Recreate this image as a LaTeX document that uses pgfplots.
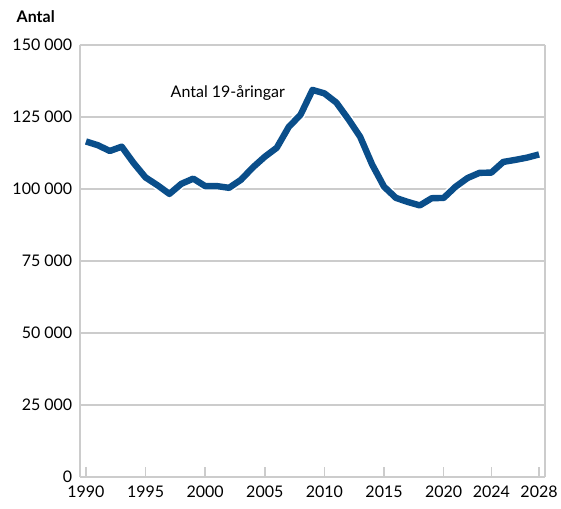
\documentclass[border=0pt]{standalone}
\usepackage{pgfplots}
\pgfplotsset{compat=1.18}
\usepackage{fontspec}
\setmainfont{Lato}
\definecolor{lineblue}{RGB}{10,78,138}
\definecolor{gridgray}{RGB}{204,204,204}
\begin{document}
\fontsize{8}{9.6}\selectfont
\begin{tikzpicture}
\path[use as bounding box] (-40pt,-15.5pt) rectangle (240.5pt,238.5pt);
\begin{axis}[
  at={(0,0)}, anchor=south west,
  width=232.5pt, height=216pt, scale only axis,
  xmin=1989.5, xmax=2028.5,
  ymin=0, ymax=150000,
  scaled y ticks=false,
  axis line style={gridgray, line width=0.8pt},
  axis x line*=bottom,
  axis y line*=left,
  xtick={1990,1995,2000,2005,2010,2015,2020,2024,2028},
  xticklabels={1990,1995,2000,2005,2010,2015,2020,2024,2028},
  ytick={0,25000,50000,75000,100000,125000,150000},
  yticklabels={0,25 000,50 000,75 000,100 000,125 000,150 000},
  ymajorgrids, grid style={gridgray, line width=0.8pt},
  major x tick style={gridgray, line width=0.8pt},
  major y tick style={draw=none},
  tick align=inside,
  major tick length=5pt,
  xtick pos=bottom,
  tick label style={font=\fontsize{8}{9.6}\selectfont, text=black},
  xticklabel style={yshift=-1.5pt},
  yticklabel style={xshift=-1pt},
  clip=false,
]
\draw[gridgray, line width=0.8pt] (rel axis cs:1,0) -- (rel axis cs:1,1);
\pgfplotstableread{
year val
1990 116500
1991 115200
1992 113200
1993 114700
1994 109000
1995 104000
1996 101300
1997 98300
1998 101800
1999 103600
2000 101000
2001 101000
2002 100400
2003 103200
2004 107500
2005 111200
2006 114300
2007 121500
2008 125800
2009 134400
2010 133200
2011 130000
2012 124300
2013 118100
2014 108500
2015 100800
2016 96900
2017 95500
2018 94300
2019 96800
2020 96900
2021 100800
2022 103800
2023 105600
2024 105700
2025 109400
2026 110100
2027 110900
2028 112000
}\datatable
\addplot[white, line width=4.8pt, line join=round, line cap=round] table[x=year,y=val] {\datatable};
\addplot[lineblue, line width=3.2pt, line join=round] table[x=year,y=val] {\datatable};
\node at (axis cs:2001.9,133300) {Antal 19-åringar};
\end{axis}
\node[anchor=west, font=\bfseries\fontsize{8}{9.6}\selectfont] at (-34.5pt,230pt) {Antal};
\end{tikzpicture}
\end{document}
